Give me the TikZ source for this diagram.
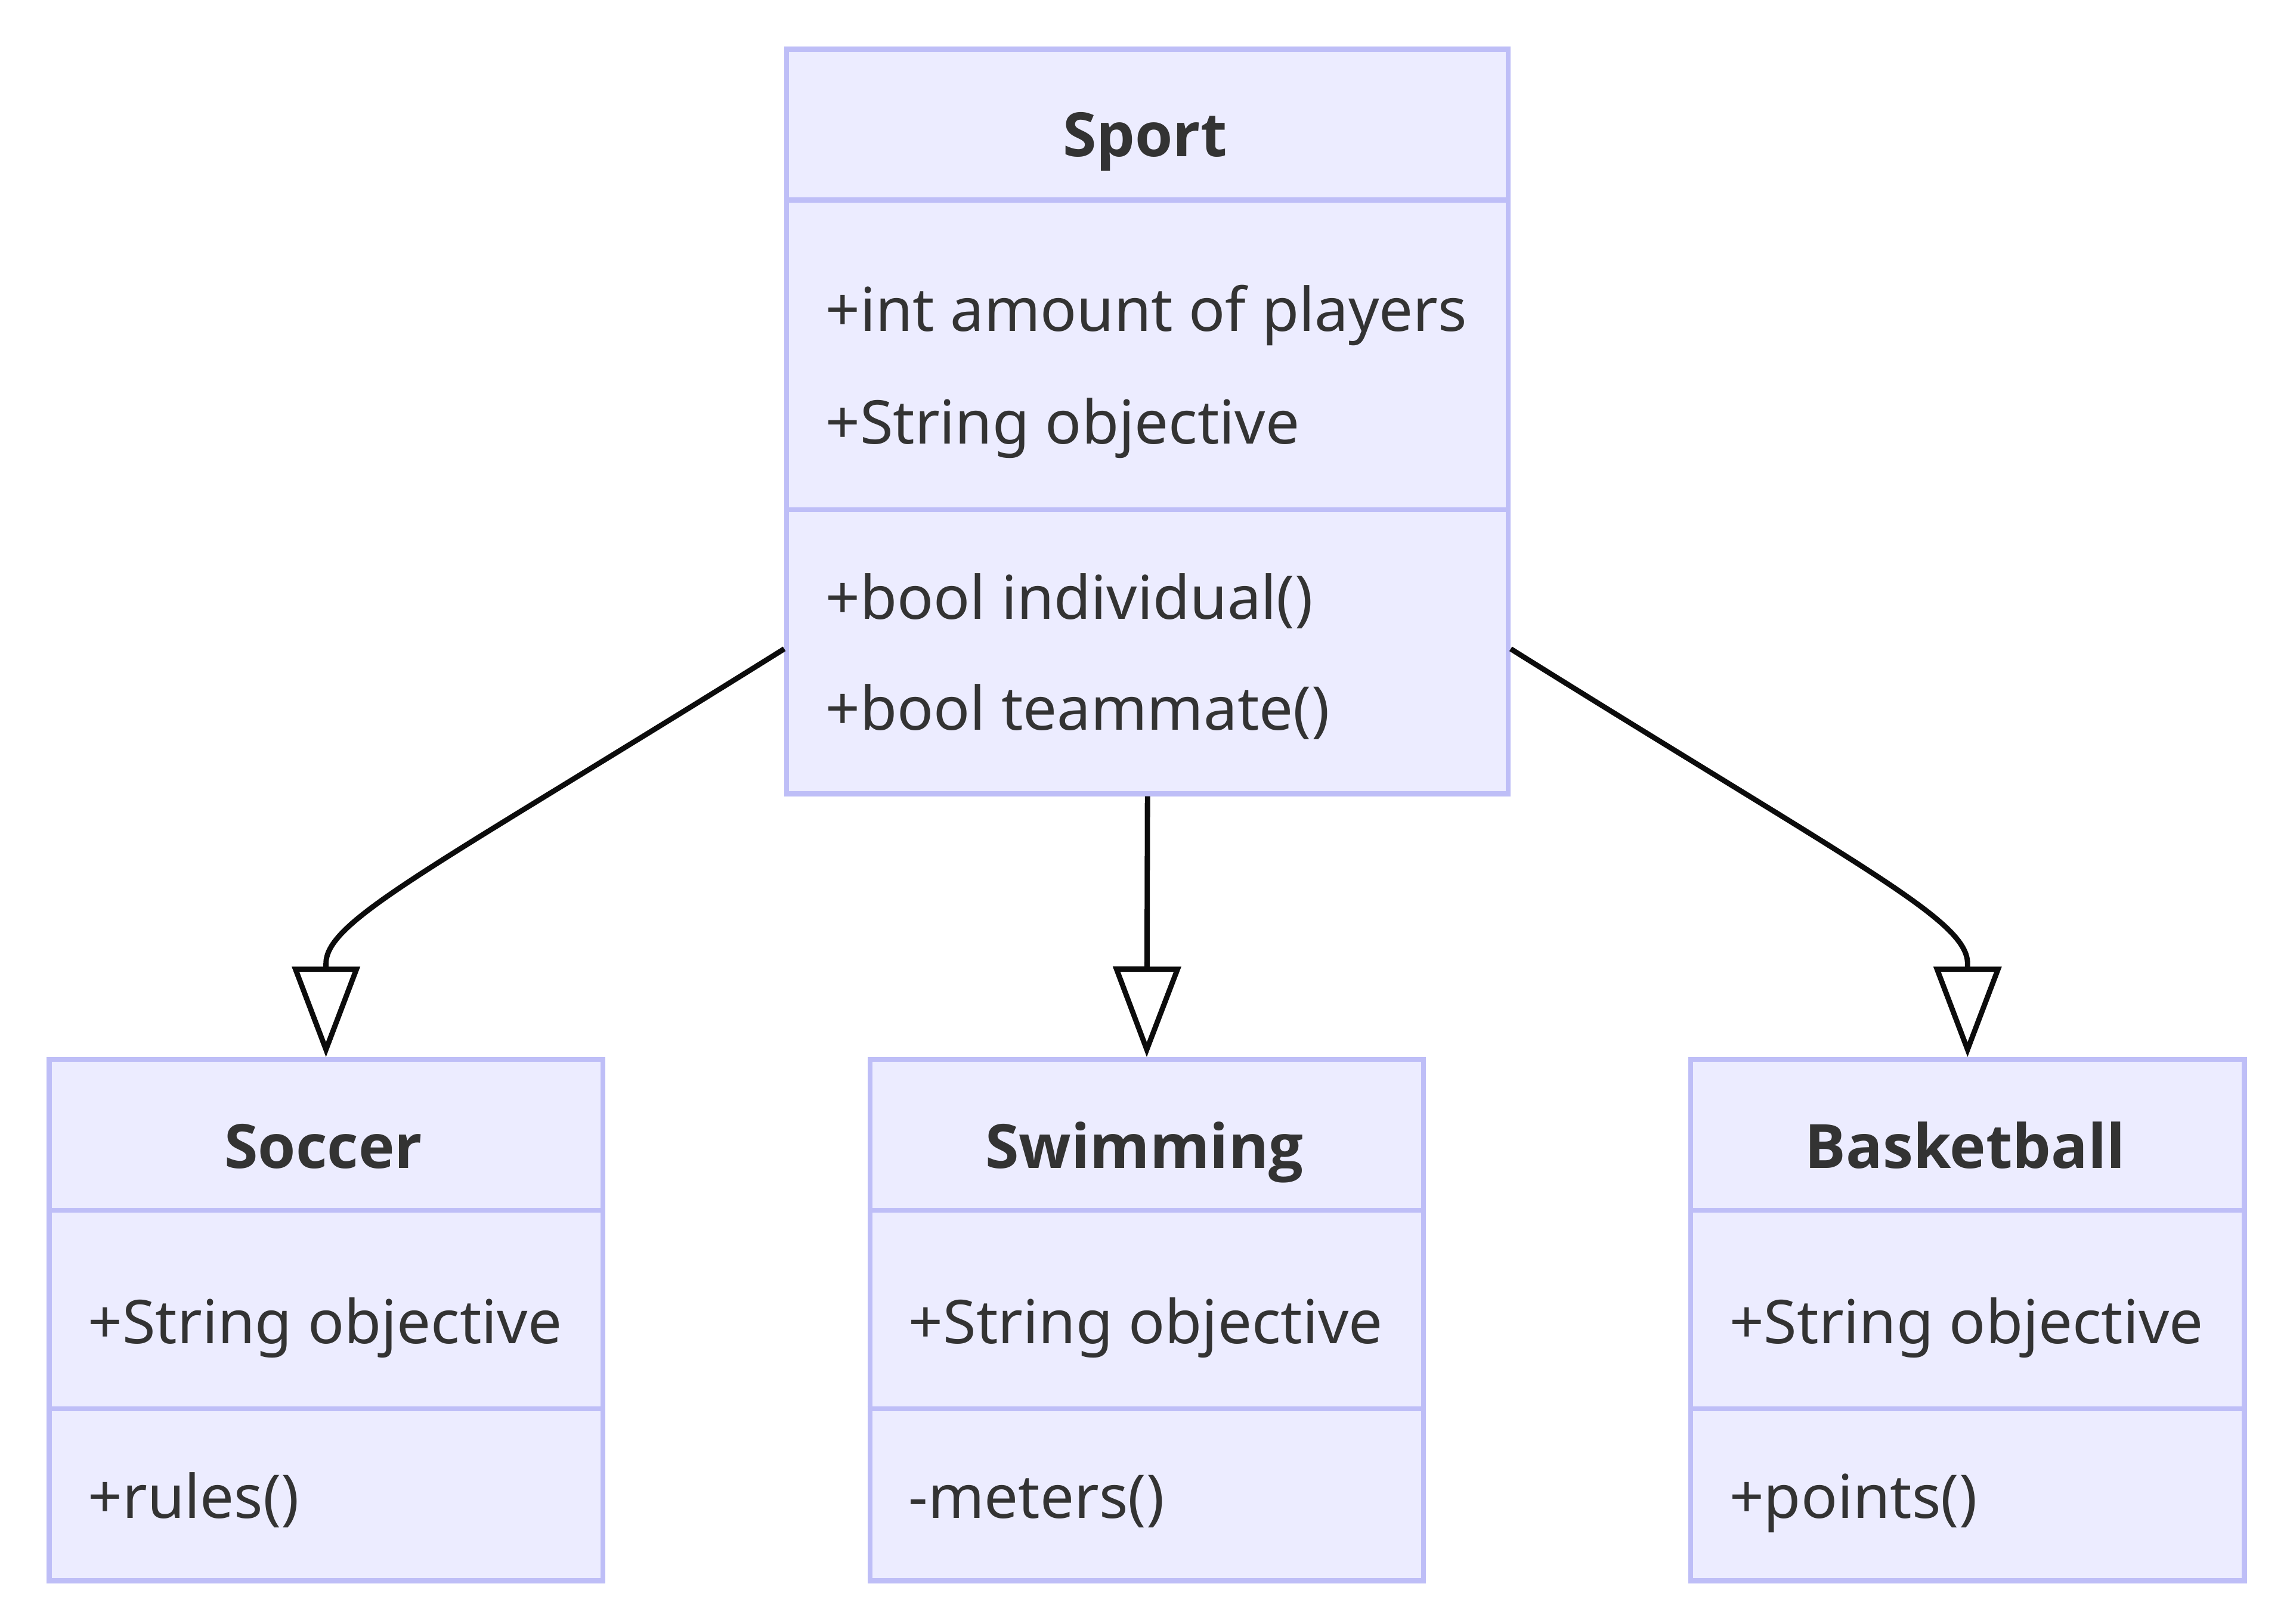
\documentclass[tikz,border=0pt]{standalone}
\usepackage{fontspec}
\setmainfont{Noto Sans}
\IfFontExistsTF{Noto Sans Bold}
  {\newfontfamily\titlefont{Noto Sans Bold}}
  {\IfFontExistsTF{Open Sans Bold}
     {\newfontfamily\titlefont{Open Sans Bold}}
     {\newfontfamily\titlefont{Noto Sans}[FakeBold=3]}}
\usetikzlibrary{arrows.meta,calc}
\definecolor{boxfill}{RGB}{236,236,255}
\definecolor{boxline}{RGB}{190,190,247}
\definecolor{txt}{RGB}{51,51,51}
\definecolor{edgecol}{RGB}{12,12,12}
\begin{document}
\begin{tikzpicture}[x=1pt,y=-1pt,
  classbox/.style={draw=boxline, fill=boxfill, line width=3.4pt, rectangle, inner sep=0pt, anchor=north west},
  title/.style={font=\titlefont\fontsize{41.8}{42}\selectfont, text=txt, anchor=base, inner sep=0pt},
  member/.style={font=\fontsize{41.3}{42}\selectfont, text=txt, anchor=base west, inner sep=0pt},
  divider/.style={draw=boxline, line width=3.4pt},
  inherit/.style={draw=edgecol, line width=3.6pt, -{Triangle[length=62pt,width=46pt,fill=white]}}]
\useasboundingbox (0,0) rectangle (1568,1112);
% boxes
\node[classbox, minimum width=494pt, minimum height=510pt] (sport) at (537,32) {};
\node[classbox, minimum width=379pt, minimum height=357pt] (soccer) at (32,724) {};
\node[classbox, minimum width=379pt, minimum height=357pt] (swimming) at (594,724) {};
\node[classbox, minimum width=379pt, minimum height=357pt] (basketball) at (1156,724) {};
% dividers
\draw[divider] (537,137) -- (1031,137);
\draw[divider] (537,349) -- (1031,349);
\foreach \x in {32,594,1156}{
  \draw[divider] (\x,829) -- (\x+379,829);
  \draw[divider] (\x,965) -- (\x+379,965);
}
% texts
\node[title] (t1) at (784,107) {Sport};
\node[member] (a1) at (565,227) {+int amount of players};
\node[member] (a2) at (565,304) {+String objective};
\node[member] (m1) at (565,424) {+bool individual()};
\node[member] (m2) at (565,500) {+bool teammate()};
\node[title] (t2) at (221.5,800) {Soccer};
\node[member] (a3) at (60,920) {+String objective};
\node[member] (m3) at (60,1040) {+rules()};
\node[title] (t3) at (783.5,800) {Swimming};
\node[member] (a4) at (622,920) {+String objective};
\node[member] (m4) at (622,1040) {-meters()};
\node[title] (t4) at (1345.5,800) {Basketball};
\node[member] (a5) at (1184,920) {+String objective};
\node[member] (m5) at (1184,1040) {+points()};
% connectors
\coordinate (sl) at ([yshift=101pt]sport.south west);
\coordinate (sr) at ([yshift=101pt]sport.south east);
\coordinate (bl) at ($(soccer.north)+(0,-64)$);
\coordinate (br) at ($(basketball.north)+(0,-64)$);
\draw[inherit] (sl) .. controls +(-240,150) and +(0,-30) .. (bl) -- (soccer.north);
\draw[inherit] (sport.south) -- (swimming.north);
\draw[inherit] (sr) .. controls +(240,150) and +(0,-30) .. (br) -- (basketball.north);
\end{tikzpicture}
\end{document}
